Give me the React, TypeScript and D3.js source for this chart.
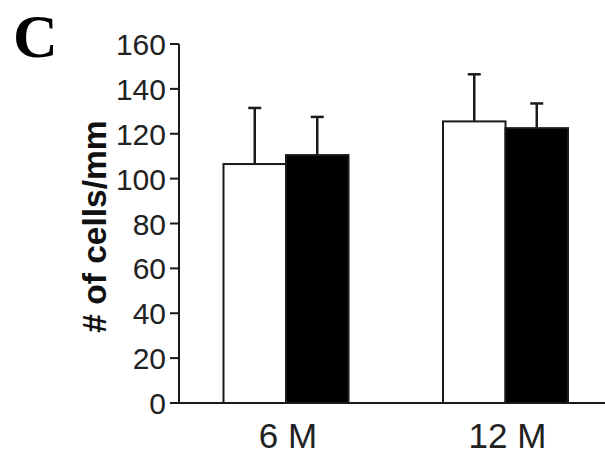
import React from "react";
import * as d3 from "d3";

const groups = ["6 M", "12 M"];
const series = ["control", "treated"];
const controlMeans = [106.5, 125.5];
const controlErr = [25, 21];
const treatedMeans = [110.5, 122.5];
const treatedErr = [17, 11];
const yTicks = [0, 20, 40, 60, 80, 100, 120, 140, 160];
const yLabel = "# of cells/mm";
const panelLetter = "C";

const W = 605;
const H = 456;

export default function App() {
  const y = d3.scaleLinear().domain([0, 160]).range([403, 44]);
  const x0 = d3.scalePoint<string>().domain(groups).range([286, 505.5]);
  const x1 = d3.scaleBand<string>().domain(series).range([-62.5, 62.5]);
  const axisX = 179;
  const stroke = "#1a1a1a";
  const data = series.map((s, si) =>
    groups.map((g, gi) => ({
      g,
      s,
      v: si === 0 ? controlMeans[gi] : treatedMeans[gi],
      e: si === 0 ? controlErr[gi] : treatedErr[gi],
    }))
  ).flat();
  const font = "'Liberation Sans', Arial, sans-serif";
  return (
    <svg
      width={W}
      height={H}
      style={{ position: "absolute", left: 0, top: 0, background: "#fff" }}
    >
      <rect width={W} height={H} fill="#fff" />
      <text
        x={13}
        y={57}
        fontFamily="'Liberation Serif', 'Times New Roman', serif"
        fontWeight="bold"
        fontSize={62}
        fill="#000"
      >
        {panelLetter}
      </text>
      {/* bars */}
      {data.map((d, i) => {
        const bx = (x0(d.g) as number) + (x1(d.s) as number);
        const bw = x1.bandwidth();
        const cx = bx + bw / 2;
        return (
          <g key={i}>
            <line
              x1={cx}
              x2={cx}
              y1={y(d.v)}
              y2={y(d.v + d.e)}
              stroke={stroke}
              strokeWidth={2.5}
            />
            <line
              x1={cx - 6.5}
              x2={cx + 6.5}
              y1={y(d.v + d.e)}
              y2={y(d.v + d.e)}
              stroke={stroke}
              strokeWidth={2.5}
            />
            <rect
              x={bx}
              y={y(d.v)}
              width={bw}
              height={y(0) - y(d.v)}
              fill={d.s === "control" ? "#fff" : "#000"}
              stroke={stroke}
              strokeWidth={2}
            />
          </g>
        );
      })}
      {/* y axis */}
      <line x1={axisX} x2={axisX} y1={y(160)} y2={y(0)} stroke={stroke} strokeWidth={2} />
      {yTicks.map((t) => (
        <g key={t}>
          <line x1={170} x2={axisX} y1={y(t)} y2={y(t)} stroke={stroke} strokeWidth={2} />
          <text
            x={166}
            y={y(t) + 11}
            textAnchor="end"
            fontFamily={font}
            fontSize={30}
            fill="#222"
          >
            {t}
          </text>
        </g>
      ))}
      {/* x axis */}
      <line x1={170} x2={W} y1={y(0)} y2={y(0)} stroke={stroke} strokeWidth={2} />
      {groups.map((g) => (
        <text
          key={g}
          x={(x0(g) as number) + 2}
          y={448}
          textAnchor="middle"
          fontFamily={font}
          fontSize={35}
          fill="#222"
        >
          {g}
        </text>
      ))}
      <text
        transform={`translate(106,226.5) rotate(-90)`}
        textAnchor="middle"
        fontFamily={font}
        fontWeight="bold"
        fontSize={33.5}
        fill="#111"
      >
        {yLabel}
      </text>
    </svg>
  );
}
